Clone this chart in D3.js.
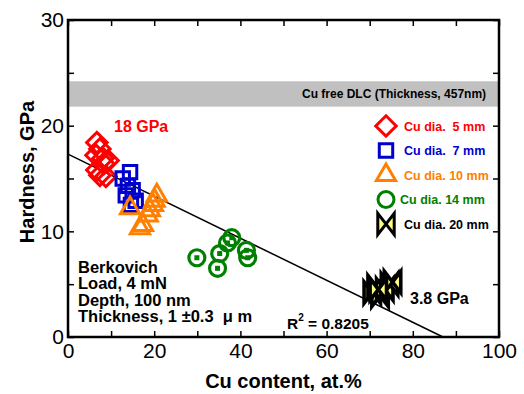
<!DOCTYPE html>
<html>
<head>
<meta charset="utf-8">
<script src="https://cdn.jsdelivr.net/npm/d3@7"></script>
<style>
  body { margin: 0; background: #fff; }
  text { font-family: "Liberation Sans", Arial, sans-serif; }
</style>
</head>
<body>
<div id="chart"></div>
<script>
// Datos (Cu content at.%, Hardness GPa)
const cu5X = [6.7, 7.4, 6.5, 8.1, 6.7, 8.3, 9.3, 7.4, 8.8];
const cu5Y = [18.4, 17.8, 17.2, 16.9, 15.8, 16.4, 16.7, 15.3, 15.2];
const cu7X = [12.7, 14.4, 13.9, 15.0, 13.4, 15.7, 14.6];
const cu7Y = [15.0, 15.6, 14.3, 13.9, 13.4, 12.9, 12.5];
const cu10X = [14.4, 17.4, 18.5, 19.7, 20.6, 20.1, 16.7, 19.0];
const cu10Y = [12.2, 10.6, 11.5, 12.5, 13.4, 12.9, 10.3, 12.0];
const cu14X = [29.9, 35.2, 38.0, 34.7, 41.4, 41.7, 37.0];
const cu14Y = [7.5, 7.9, 9.4, 6.5, 8.2, 7.5, 8.9];
const cu20X = [70.6, 71.5, 72.4, 73.5, 74.6, 75.3, 72.0];
const cu20Y = [4.2, 4.8, 3.9, 4.5, 5.0, 5.2, 4.5];

const legendLabels = ["Cu dia.  5 mm", "Cu dia.  7 mm", "Cu dia. 10 mm", "Cu dia. 14 mm", "Cu dia. 20 mm"];
const fitLine = [[0, 17.3], [87, 0]];
const dlcBand = [21.8, 24.2];
const xTicks = [0, 10, 20, 30, 40, 50, 60, 70, 80, 90, 100];
const yTicks = [0, 5, 10, 15, 20, 25, 30];

const width = 524, height = 394;
const mLeft = 68, mRight = 499, mTop = 20, mBottom = 337;

const svg = d3.select("#chart").append("svg")
    .attr("width", width)
    .attr("height", height);

const x = d3.scaleLinear().domain([0, 100]).range([mLeft, mRight]);
const y = d3.scaleLinear().domain([0, 30]).range([mBottom, mTop]);

// Banda gris DLC sin Cu
svg.append("rect")
    .attr("x", x(0))
    .attr("y", y(dlcBand[1]))
    .attr("width", x(100) - x(0))
    .attr("height", y(dlcBand[0]) - y(dlcBand[1]))
    .attr("fill", "#c0c0c0");
svg.append("text")
    .attr("x", x(97))
    .attr("y", y((dlcBand[0] + dlcBand[1]) / 2) + 4)
    .attr("text-anchor", "end")
    .attr("font-size", "12px")
    .attr("font-weight", "bold")
    .text("Cu free DLC (Thickness, 457nm)");

// Ejes (ticks hacia dentro en los cuatro lados)
function styleAxis(g) {
    g.select(".domain").remove();
    g.selectAll(".tick line").attr("stroke", "#000").attr("stroke-width", 1.5);
    g.selectAll("text").attr("font-size", "21px").attr("fill", "#000")
        .style("font-family", "'Liberation Sans', Arial, sans-serif");
}
svg.append("g")
    .attr("transform", `translate(0,${mBottom})`)
    .call(d3.axisBottom(x).tickValues(xTicks).tickSize(-6).tickPadding(6)
        .tickFormat(d => d % 20 === 0 ? d : ""))
    .call(styleAxis);
svg.append("g")
    .attr("transform", `translate(0,${mTop})`)
    .call(d3.axisTop(x).tickValues(xTicks).tickSize(-6).tickFormat(""))
    .call(styleAxis);
svg.append("g")
    .attr("transform", `translate(${mLeft},0)`)
    .call(d3.axisLeft(y).tickValues(yTicks).tickSize(-6).tickPadding(4)
        .tickFormat(d => d % 10 === 0 ? d : ""))
    .call(styleAxis);
svg.append("g")
    .attr("transform", `translate(${mRight},0)`)
    .call(d3.axisRight(y).tickValues(yTicks).tickSize(-6).tickFormat(""))
    .call(styleAxis);

svg.append("rect")
    .attr("x", mLeft).attr("y", mTop)
    .attr("width", mRight - mLeft).attr("height", mBottom - mTop)
    .attr("fill", "none").attr("stroke", "#000").attr("stroke-width", 2.5);

// Recta de ajuste
svg.append("line")
    .attr("x1", x(fitLine[0][0])).attr("y1", y(fitLine[0][1]))
    .attr("x2", x(fitLine[1][0])).attr("y2", y(fitLine[1][1]))
    .attr("stroke", "#000").attr("stroke-width", 1.5);

// Símbolos
const bowtie = {
    draw(ctx, size) {
        const sx = Math.sqrt(size) / 2, sy = sx * 1.3;
        ctx.moveTo(-sx, -sy); ctx.lineTo(sx, sy); ctx.lineTo(sx, -sy);
        ctx.lineTo(-sx, sy); ctx.closePath();
    }
};
const series = [
    { xs: cu5X, ys: cu5Y, color: "#ff0000", type: d3.symbolSquare, size: 210, rot: 45, fill: "none", sw: 3 },
    { xs: cu7X, ys: cu7Y, color: "#0000cc", type: d3.symbolSquare, size: 180, rot: 0, fill: "none", sw: 3 },
    { xs: cu10X, ys: cu10Y, color: "#ff8000", type: d3.symbolTriangle, size: 160, rot: 0, fill: "none", sw: 3 },
    { xs: cu14X, ys: cu14Y, color: "#008000", type: d3.symbolCircle, size: 200, rot: 0, fill: "none", sw: 3.2, dot: true },
    { xs: cu20X, ys: cu20Y, color: "#000000", type: bowtie, size: 270, rot: 0, fill: "#ffff80", sw: 3.6 }
];

series.forEach(s => {
    const pts = s.xs.map((v, i) => ({ x: v, y: s.ys[i] }));
    const g = svg.append("g");
    const sym = g.selectAll("g.pt").data(pts).enter().append("g")
        .attr("transform", d => `translate(${x(d.x)},${y(d.y)}) rotate(${s.rot})`);
    sym.append("path")
        .attr("d", d3.symbol().type(s.type).size(s.size))
        .attr("fill", s.fill)
        .attr("stroke", s.color)
        .attr("stroke-width", s.sw);
    if (s.dot) {
        sym.append("rect").attr("x", -2.5).attr("y", -2.5).attr("width", 5).attr("height", 5)
            .attr("fill", s.color);
    }
});

// Leyenda
series.forEach((s, i) => {
    const ly = 126 + i * 24.5;
    svg.append("path")
        .attr("transform", `translate(386,${ly}) rotate(${s.rot})`)
        .attr("d", d3.symbol().type(s.type).size(s.size))
        .attr("fill", s.fill === "none" ? "#fff" : s.fill)
        .attr("stroke", s.color)
        .attr("stroke-width", 3);
    svg.append("text")
        .attr("x", i === 3 ? 400 : 404)
        .attr("y", ly + 4.5)
        .attr("font-size", "12.5px")
        .attr("font-weight", "bold")
        .attr("fill", s.color)
        .style("white-space", "pre")
        .text(legendLabels[i]);
});

// Anotaciones
svg.append("text")
    .attr("x", 114).attr("y", 132)
    .attr("font-size", "16px").attr("font-weight", "bold").attr("fill", "#ff0000")
    .text("18 GPa");
svg.append("text")
    .attr("x", 410).attr("y", 304)
    .attr("font-size", "16px").attr("font-weight", "bold")
    .text("3.8 GPa");
const r2 = svg.append("text")
    .attr("x", 287).attr("y", 329)
    .attr("font-size", "15.5px").attr("font-weight", "bold");
r2.append("tspan").text("R");
r2.append("tspan").attr("font-size", "10px").attr("dy", -8).text("2");
r2.append("tspan").attr("dy", 8).text(" = 0.8205");

const cond = ["Berkovich", "Load, 4 mN", "Depth, 100 nm", "Thickness, 1 \u00b10.3  \u03bc m"];
cond.forEach((t, i) => {
    svg.append("text")
        .attr("x", 78).attr("y", 273 + i * 16.4)
        .attr("font-size", "16.5px").attr("font-weight", "bold")
        .style("white-space", "pre")
        .text(t);
});

// Etiquetas de los ejes
svg.append("text")
    .attr("x", (mLeft + mRight) / 2).attr("y", 388)
    .attr("text-anchor", "middle")
    .attr("font-size", "20px").attr("font-weight", "bold")
    .text("Cu content, at.%");
svg.append("text")
    .attr("transform", "translate(34,172) rotate(-90)")
    .attr("text-anchor", "middle")
    .attr("font-size", "20px").attr("font-weight", "bold")
    .text("Hardness, GPa");
</script>
</body>
</html>
